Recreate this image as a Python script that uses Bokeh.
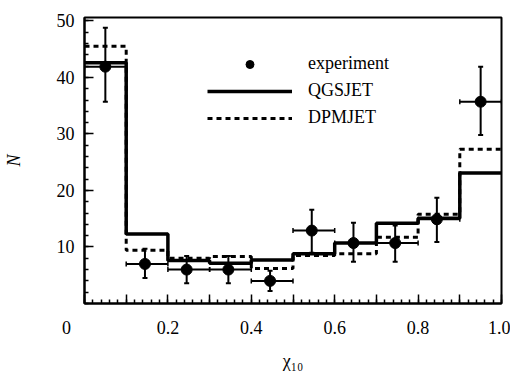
from bokeh.plotting import figure
from bokeh.models import (ColumnDataSource, FixedTicker, Range1d, Whisker, TeeHead,
                          Legend, LegendItem)
from bokeh.embed import file_html
from bokeh.resources import INLINE

# ---------------- data ----------------
bin_edges = [0.0, 0.1, 0.2, 0.3, 0.4, 0.5, 0.6, 0.7, 0.8, 0.9, 1.0]
qgsjet = [42.6, 12.3, 7.6, 7.1, 7.7, 8.8, 10.7, 14.2, 15.1, 23.1]
dpmjet = [45.5, 9.4, 8.0, 8.3, 6.2, 8.5, 8.8, 11.7, 15.8, 27.3]
exp_x = [0.05, 0.145, 0.245, 0.345, 0.445, 0.545, 0.645, 0.745, 0.845, 0.95]
exp_y = [41.9, 7.0, 6.0, 6.0, 4.0, 12.9, 10.7, 10.7, 14.9, 35.7]
exp_err_up = [6.9, 2.7, 2.4, 2.4, 1.8, 3.7, 3.6, 3.1, 3.8, 6.2]
exp_err_down = [6.2, 2.5, 2.4, 2.4, 1.8, 3.9, 3.3, 3.3, 4.0, 5.9]

x_ticks = [0, 0.1, 0.2, 0.3, 0.4, 0.5, 0.6, 0.7, 0.8, 0.9, 1.0]
x_tick_labels = ["0", "", "0.2", "", "0.4", "", "0.6", "", "0.8", "", "1.0"]
y_ticks = [10, 20, 30, 40, 50]
y_tick_labels = ["10", "20", "30", "40", "50"]
x_title = "χ₁₀"
y_title = "N"

FONT = "Liberation Serif"
NBSP = "\u00a0"

p = figure(width=510, height=373, output_backend="svg", toolbar_location=None,
           x_range=Range1d(0, 1), y_range=Range1d(0, 50.6),
           min_border_left=84, min_border_right=9, min_border_top=17, min_border_bottom=65)
p.xgrid.visible = False
p.ygrid.visible = False
p.outline_line_color = "black"
p.outline_line_width = 2
p.background_fill_color = "white"
p.border_fill_color = "white"

# histograms
step_q = p.step(bin_edges, qgsjet + [qgsjet[-1]], mode="after",
                line_color="black", line_width=3.5)
step_d = p.step(bin_edges, dpmjet + [dpmjet[-1]], mode="after",
                line_color="black", line_width=3, line_dash="5 4")

# experiment with error bars
src = ColumnDataSource(dict(
    x=exp_x, y=exp_y,
    yu=[a + b for a, b in zip(exp_y, exp_err_up)],
    yl=[a - b for a, b in zip(exp_y, exp_err_down)],
    xl=bin_edges[:-1], xh=bin_edges[1:],
))
p.add_layout(Whisker(source=src, base="x", upper="yu", lower="yl", dimension="height",
                     line_color="black", line_width=2,
                     upper_head=TeeHead(size=5, line_width=2),
                     lower_head=TeeHead(size=5, line_width=2)))
p.add_layout(Whisker(source=src, base="y", upper="xh", lower="xl", dimension="width",
                     line_color="black", line_width=2,
                     upper_head=TeeHead(size=5, line_width=1.5),
                     lower_head=TeeHead(size=5, line_width=1.5)))
pts = p.scatter("x", "y", source=src, size=11, marker="circle",
                fill_color="black", line_color="black")

# axes
xa = p.xaxis[0]
xa.ticker = FixedTicker(ticks=x_ticks, minor_ticks=[i / 50 for i in range(51)])
overrides = {}
for t, l in zip(x_ticks, x_tick_labels):
    # the corner "0" sits to the left of the axis origin in the original figure
    overrides[t] = (l + NBSP * 8) if t == 0 else l
xa.major_label_overrides = overrides
ya = p.yaxis[0]
ya.ticker = FixedTicker(ticks=y_ticks, minor_ticks=[2 * i for i in range(26)])
ya.major_label_overrides = {t: l for t, l in zip(y_ticks, y_tick_labels)}
for ax in (xa, ya):
    ax.axis_line_color = "black"
    ax.axis_line_width = 2
    ax.major_tick_in = 9
    ax.major_tick_out = 0
    ax.minor_tick_in = 4
    ax.minor_tick_out = 0
    ax.major_tick_line_width = 1.5
    ax.minor_tick_line_width = 1.5
    ax.major_tick_line_color = "black"
    ax.minor_tick_line_color = "black"
    ax.major_label_text_font = FONT
    ax.major_label_text_font_size = "18px"
    ax.major_label_text_color = "black"
    ax.axis_label_text_font = FONT
    ax.axis_label_text_color = "black"
xa.major_label_standoff = 14
ya.major_label_standoff = 10
ya.axis_label = y_title
ya.axis_label_text_font_style = "italic"
ya.axis_label_text_font_size = "18px"
ya.axis_label_standoff = 30
xa.axis_label = x_title
xa.axis_label_text_font_style = "normal"
xa.axis_label_text_font_size = "18px"
xa.axis_label_standoff = 10

legend = Legend(items=[
    LegendItem(label="experiment", renderers=[pts]),
    LegendItem(label="QGSJET", renderers=[step_q]),
    LegendItem(label="DPMJET", renderers=[step_d]),
], location=(123, 175), glyph_width=85, glyph_height=20, label_height=20,
    spacing=6, label_standoff=16, padding=0, margin=0,
    border_line_color=None, background_fill_alpha=0,
    label_text_font=FONT, label_text_font_size="18px", label_text_color="black")
p.add_layout(legend)

open("out.html", "w").write(file_html(p, INLINE))
